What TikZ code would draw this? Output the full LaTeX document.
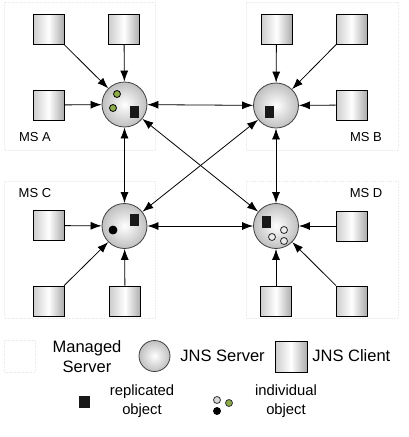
\documentclass[tikz,border=0pt]{standalone}
\usepackage{fontspec}
\setmainfont{Liberation Sans}
\usetikzlibrary{arrows.meta}
\definecolor{objgreen}{RGB}{140,172,74}

\begin{document}
\begin{tikzpicture}[x=1pt,y=-1pt,line width=0.8pt,
		client/.style={draw,minimum width=31pt,minimum height=30pt,inner sep=0pt,
			left color=gray!40,right color=gray!65,middle color=white},
		server/.style={circle,draw=gray!50!black,minimum size=45pt,inner sep=0pt,
			inner color=white,outer color=gray!50},
		repl/.style={fill=black!90,minimum width=9pt,minimum height=12pt,inner sep=0pt},
		indiv/.style={circle,draw,minimum size=7pt,inner sep=0pt},
		msbox/.style={draw=gray!15,densely dotted,line width=0.6pt},
		link/.style={-{Latex[length=11pt,width=8pt]}},
		both/.style={{Latex[length=11pt,width=8pt]}-{Latex[length=11pt,width=8pt]}},
		mslabel/.style={inner sep=0pt,font=\fontsize{13}{15}\selectfont},
		big/.style={inner sep=0pt,font=\fontsize{16.5}{20}\selectfont},
		small/.style={inner sep=0pt,align=center,font=\fontsize{14.8}{19}\selectfont}]
		\useasboundingbox (0,0) rectangle (408,437);
		% managed servers
		\draw[msbox] (4,2) rectangle (155,150);
		\draw[msbox] (246,2) rectangle (398,150);
		\draw[msbox] (4,181) rectangle (155,318);
		\draw[msbox] (246,181) rectangle (398,318);
		\node[mslabel] (la) at (35,137) {MS A};
		\node[mslabel] (lb) at (366,137) {MS B};
		\node[mslabel] (lc) at (35,193) {MS C};
		\node[mslabel] (ld) at (366,193) {MS D};
		% servers
		\node[server] (sa) at (124.5,104.5) {};
		\node[server] (sb) at (276,105.5) {};
		\node[server] (sc) at (124.5,226) {};
		\node[server] (sd) at (276,226) {};
		% objects
		\node[indiv,fill=objgreen] (ga1) at (117,94) {};
		\node[indiv,fill=objgreen] (ga2) at (113,108) {};
		\node[repl] (ra) at (134.5,112) {};
		\node[repl] (rb) at (269,111.5) {};
		\node[repl] (rc) at (134,220) {};
		\node[indiv,fill=black,minimum size=8pt] (kc) at (113,230) {};
		\node[repl] (rd) at (266,222) {};
		\node[indiv,draw=gray!30!black,fill=gray!15] (wd1) at (284,230) {};
		\node[indiv,draw=gray!30!black,fill=gray!15] (wd2) at (272,237) {};
		\node[indiv,draw=gray!30!black,fill=gray!15] (wd3) at (284,241) {};
		% clients
		\node[client] (a1) at (48.5,29) {};
		\node[client] (a2) at (124,29) {};
		\node[client] (a3) at (48.5,105) {};
		\node[client] (b1) at (276.5,29) {};
		\node[client] (b2) at (351.5,29) {};
		\node[client] (b3) at (351.5,105) {};
		\node[client] (c1) at (48.5,225.5) {};
		\node[client] (c2) at (48.5,301) {};
		\node[client] (c3) at (125,301) {};
		\node[client] (d1) at (351.5,226) {};
		\node[client] (d2) at (276,301) {};
		\node[client] (d3) at (351.5,301) {};
		% connectors
		\draw[link] (a1) -- (sa);
		\draw[link] (a2) -- (sa);
		\draw[link] (a3) -- (sa);
		\draw[link] (b1) -- (sb);
		\draw[link] (b2) -- (sb);
		\draw[link] (b3) -- (sb);
		\draw[link] (c1) -- (sc);
		\draw[link] (c2) -- (sc);
		\draw[link] (c3) -- (sc);
		\draw[link] (d1) -- (sd);
		\draw[link] (d2) -- (sd);
		\draw[link] (d3) -- (sd);
		\draw[both] (sa) -- (sb);
		\draw[both] (sa) -- (sc);
		\draw[both] (sb) -- (sd);
		\draw[both] (sc) -- (sd);
		\draw[both] (sa) -- (sd);
		\draw[both] (sb) -- (sc);
		% legend
		\draw[msbox] (4,340) rectangle (35,372);
		\node[big,align=center] (lms) at (87,357) {Managed\\Server};
		\node[server,minimum size=31pt] (ls) at (154.5,356) {};
		\node[big,anchor=west] (lst) at (180,356) {JNS Server};
		\node[client,minimum width=32pt,minimum height=31pt] (lcl) at (291,356.5) {};
		\node[big,anchor=west] (lct) at (312,356) {JNS Client};
		\node[repl,minimum width=11pt] (lr) at (84.5,402) {};
		\node[small] (lrt) at (142,401) {replicated\\object};
		\node[indiv,draw=gray!40!black,fill=gray!30] (li1) at (217,400) {};
		\node[indiv,draw=gray!40!black,fill=objgreen] (li2) at (229,403) {};
		\node[indiv,fill=black] (li3) at (217,411) {};
		\node[small] (lit) at (286,401) {individual\\object};
	\end{tikzpicture}
\end{document}
